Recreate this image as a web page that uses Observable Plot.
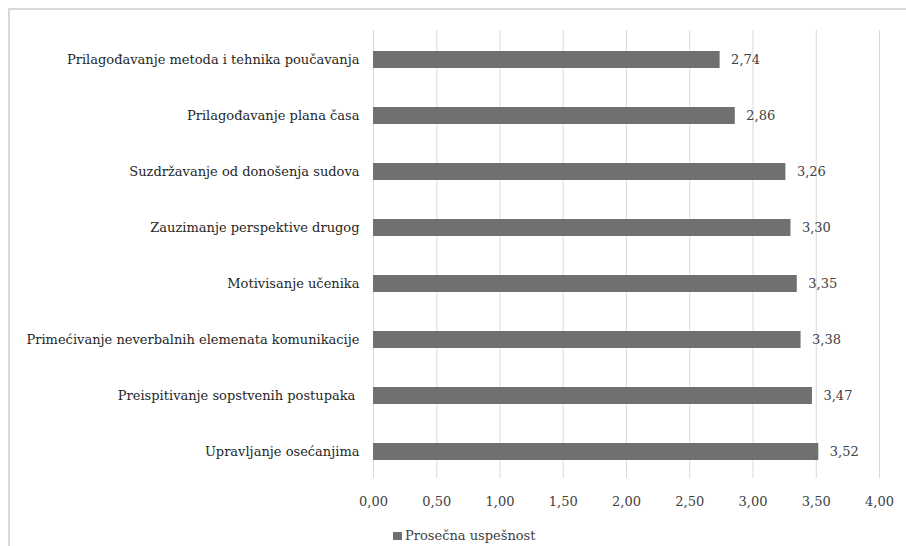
<!DOCTYPE html>
<html>
<head>
<meta charset="utf-8">
<script src="https://cdn.jsdelivr.net/npm/d3@7"></script>
<script src="https://cdn.jsdelivr.net/npm/@observablehq/plot@0.6"></script>
<style>
  html, body { margin: 0; padding: 0; background: #fff; width: 906px; height: 546px; overflow: hidden; }
  #frame { position: absolute; left: 8px; top: 8px; width: 920px; height: 560px;
           border-top: 2px solid #d9d9d9; border-left: 2px solid #d9d9d9; }
  #chart { position: absolute; left: 0; top: 0; }
  #chart svg text { white-space: pre; }
  #legend { position: absolute; left: 393px; top: 528px; font: 13px "DejaVu Serif", serif;
            color: #404040; display: flex; align-items: center; white-space: nowrap; }
  #legend .sw { width: 9px; height: 8px; background: #707070; margin-right: 3px; }
</style>
</head>
<body>
<div id="frame"></div>
<div id="chart"></div>
<div id="legend"><span class="sw"></span><span id="legend-label"></span></div>
<script>
// Competences, top to bottom, and their average success scores
const categories = [
  "Prilagođavanje metoda i tehnika poučavanja",
  "Prilagođavanje plana časa",
  "Suzdržavanje od donošenja sudova",
  "Zauzimanje perspektive drugog",
  "Motivisanje učenika",
  "Primećivanje neverbalnih elemenata komunikacije",
  "Preispitivanje sopstvenih postupaka ",
  "Upravljanje osećanjima"
];
const values = [2.74, 2.86, 3.26, 3.30, 3.35, 3.38, 3.47, 3.52];
const xTicks = [0, 0.5, 1, 1.5, 2, 2.5, 3, 3.5, 4];
const seriesName = "Prosečna uspešnost";

const rows = categories.map((c, i) => ({category: c, value: values[i]}));

// Serbian number style: comma as decimal separator
const fmt = d3.formatLocale({decimal: ",", thousands: ".", grouping: [3], currency: ["", ""]}).format(".2f");

const font = "'DejaVu Serif', serif";

const chart = Plot.plot({
  width: 906,
  height: 520,
  marginLeft: 373,
  marginRight: 27,
  marginTop: 30,
  marginBottom: 42,
  style: {fontFamily: font, fontSize: "13px", color: "#404040", background: "transparent"},
  x: {domain: [0, 4], ticks: xTicks, label: null},
  y: {domain: categories, range: [32, 480], paddingInner: 0.696, paddingOuter: 0.348, axis: null},
  marks: [
    Plot.gridX(xTicks, {stroke: "#d9d9d9", strokeOpacity: 1, strokeWidth: 1}),
    Plot.axisX(xTicks, {tickSize: 0, tickPadding: 18, tickFormat: fmt, fill: "#404040", fontSize: 13, label: null}),
    Plot.barX(rows, {x: "value", y: "category", fill: "#707070"}),
    Plot.text(rows, {x: "value", y: "category", text: d => fmt(d.value), dx: 11,
                     textAnchor: "start", fill: "#404040", fontSize: 13}),
    Plot.text(rows, {x: 0, y: "category", text: "category", dx: -14,
                     textAnchor: "end", fill: "#262626", fontSize: 13})
  ]
});

document.getElementById("chart").append(chart);
document.getElementById("legend-label").textContent = seriesName;
</script>
</body>
</html>
